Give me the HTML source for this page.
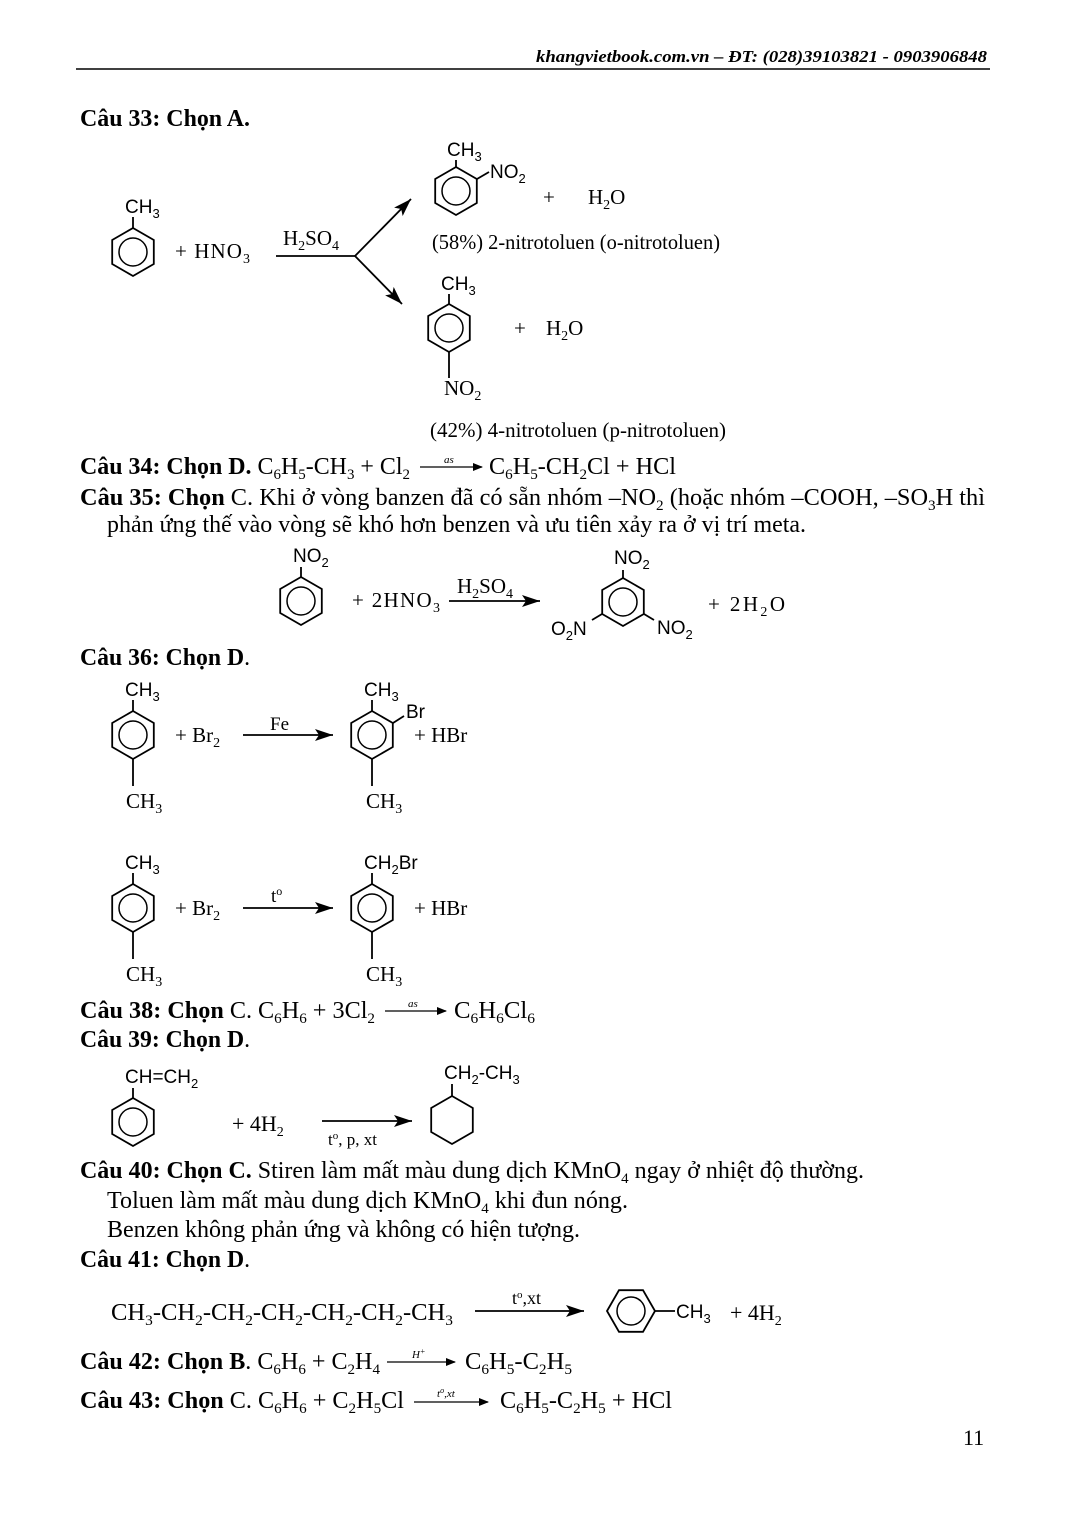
<!DOCTYPE html>
<html><head><meta charset="utf-8"><style>
html,body{margin:0;padding:0;background:#fff}
svg{display:block}
.t{font-family:"Liberation Serif",serif;font-size:24px;fill:#000}
.b{font-weight:bold}
.s{font-family:"Liberation Sans",sans-serif;font-size:19px;fill:#000}
</style></head><body>
<svg width="1068" height="1521" viewBox="0 0 1068 1521" xmlns="http://www.w3.org/2000/svg">
<defs>
<g id="ring"><polygon points="0,-24 20.8,-12 20.8,12 0,24 -20.8,12 -20.8,-12" fill="none" stroke="#000" stroke-width="1.8"/><circle r="14" fill="none" stroke="#000" stroke-width="1.5"/></g>
<g id="ringH"><polygon points="-24,0 -12,-20.8 12,-20.8 24,0 12,20.8 -12,20.8" fill="none" stroke="#000" stroke-width="1.8"/><circle r="14" fill="none" stroke="#000" stroke-width="1.5"/></g>
<marker id="ah" markerWidth="10" markerHeight="8" refX="9" refY="4" orient="auto" markerUnits="userSpaceOnUse"><path d="M0,0 L10,4 L0,8 Z"/></marker>
<marker id="ahb" markerWidth="20" markerHeight="12" refX="18" refY="6" orient="auto" markerUnits="userSpaceOnUse"><path d="M0,0 L18,6 L0,12 L4,6 Z"/></marker>
</defs>
<line x1="76" y1="69" x2="990" y2="69" stroke="#000" stroke-width="1.5"/>
<text x="536" y="62" class="t b" style="font-style:italic;font-size:17px" textLength="451" lengthAdjust="spacingAndGlyphs">khangvietbook.com.vn – ĐT: (028)39103821 - 0903906848</text>

<!-- Q33 -->
<text x="80" y="126" class="t b" textLength="170" lengthAdjust="spacingAndGlyphs">Câu 33: Chọn A.</text>
<use href="#ring" x="133" y="252"/>
<line x1="133" y1="228" x2="133" y2="217" stroke="#000" stroke-width="1.8"/>
<text x="125" y="213" class="s">CH<tspan dy="5" font-size="13">3</tspan></text>
<text x="175" y="258" class="t" style="font-size:21px" textLength="75">+  HNO<tspan dy="5" font-size="14">3</tspan></text>
<text x="283" y="245" class="t" style="font-size:21px">H<tspan dy="5" font-size="14">2</tspan><tspan dy="-5">SO</tspan><tspan dy="5" font-size="14">4</tspan></text>
<g stroke="#000" stroke-width="1.8" fill="none">
<line x1="276" y1="256" x2="355" y2="256"/>
<line x1="355" y1="256" x2="411" y2="199" marker-end="url(#ahb)"/>
<line x1="355" y1="256" x2="402" y2="304" marker-end="url(#ahb)"/>
</g>
<use href="#ring" x="456" y="191"/>
<line x1="456" y1="167" x2="456" y2="160" stroke="#000" stroke-width="1.8"/>
<line x1="477" y1="179" x2="489" y2="172" stroke="#000" stroke-width="1.8"/>
<text x="447" y="156" class="s">CH<tspan dy="5" font-size="13">3</tspan></text>
<text x="490" y="178" class="s">NO<tspan dy="5" font-size="13">2</tspan></text>
<text x="543" y="204" class="t" style="font-size:21px">+</text>
<text x="588" y="204" class="t" style="font-size:21px">H<tspan dy="5" font-size="14">2</tspan><tspan dy="-5">O</tspan></text>
<text x="432" y="249" class="t" style="font-size:21px" textLength="288" lengthAdjust="spacingAndGlyphs">(58%) 2-nitrotoluen (o-nitrotoluen)</text>
<use href="#ring" x="449" y="328"/>
<line x1="449" y1="304" x2="449" y2="294" stroke="#000" stroke-width="1.8"/>
<line x1="449" y1="352" x2="449" y2="378" stroke="#000" stroke-width="1.8"/>
<text x="441" y="290" class="s">CH<tspan dy="5" font-size="13">3</tspan></text>
<text x="444" y="395" class="t" style="font-size:21px">NO<tspan dy="5" font-size="14">2</tspan></text>
<text x="514" y="335" class="t" style="font-size:21px">+</text>
<text x="546" y="335" class="t" style="font-size:21px">H<tspan dy="5" font-size="14">2</tspan><tspan dy="-5">O</tspan></text>
<text x="430" y="437" class="t" style="font-size:21px" textLength="296" lengthAdjust="spacingAndGlyphs">(42%)   4-nitrotoluen (p-nitrotoluen)</text>

<!-- Q34 -->
<text x="80" y="474" class="t" textLength="330" lengthAdjust="spacingAndGlyphs"><tspan class="b">Câu 34: Chọn D.</tspan> C<tspan dy="5" font-size="15">6</tspan><tspan dy="-5">H</tspan><tspan dy="5" font-size="15">5</tspan><tspan dy="-5">-CH</tspan><tspan dy="5" font-size="15">3</tspan><tspan dy="-5"> + Cl</tspan><tspan dy="5" font-size="15">2</tspan></text>
<line x1="420" y1="467" x2="482" y2="467" stroke="#000" stroke-width="1.2" marker-end="url(#ah)"/>
<text x="444" y="463" class="t" style="font-size:11px;font-style:italic">as</text>
<text x="489" y="474" class="t" textLength="187" lengthAdjust="spacingAndGlyphs">C<tspan dy="5" font-size="15">6</tspan><tspan dy="-5">H</tspan><tspan dy="5" font-size="15">5</tspan><tspan dy="-5">-CH</tspan><tspan dy="5" font-size="15">2</tspan><tspan dy="-5">Cl + HCl</tspan></text>

<!-- Q35 -->
<text x="80" y="505" class="t" textLength="905" lengthAdjust="spacingAndGlyphs"><tspan class="b">Câu 35: Chọn</tspan> C. Khi ở vòng banzen đã có sẵn nhóm –NO<tspan dy="5" font-size="15">2</tspan><tspan dy="-5"> (hoặc nhóm –COOH, –SO</tspan><tspan dy="5" font-size="15">3</tspan><tspan dy="-5">H thì</tspan></text>
<text x="107" y="532" class="t" textLength="699" lengthAdjust="spacingAndGlyphs">phản ứng thế vào vòng sẽ khó hơn benzen và ưu tiên xảy ra ở vị trí meta.</text>
<use href="#ring" x="301" y="601"/>
<line x1="301" y1="577" x2="301" y2="567" stroke="#000" stroke-width="1.8"/>
<text x="293" y="562" class="s">NO<tspan dy="5" font-size="13">2</tspan></text>
<text x="352" y="607" class="t" style="font-size:21px" textLength="88">+  2HNO<tspan dy="5" font-size="14">3</tspan></text>
<text x="457" y="593" class="t" style="font-size:21px">H<tspan dy="5" font-size="14">2</tspan><tspan dy="-5">SO</tspan><tspan dy="5" font-size="14">4</tspan></text>
<line x1="449" y1="601" x2="540" y2="601" stroke="#000" stroke-width="1.8" marker-end="url(#ahb)"/>
<use href="#ring" x="623" y="602"/>
<line x1="623" y1="578" x2="623" y2="570" stroke="#000" stroke-width="1.8"/>
<line x1="602" y1="614" x2="592" y2="620" stroke="#000" stroke-width="1.8"/>
<line x1="644" y1="614" x2="654" y2="620" stroke="#000" stroke-width="1.8"/>
<text x="614" y="564" class="s">NO<tspan dy="5" font-size="13">2</tspan></text>
<text x="551" y="635" class="s">O<tspan dy="5" font-size="13">2</tspan><tspan dy="-5">N</tspan></text>
<text x="657" y="634" class="s">NO<tspan dy="5" font-size="13">2</tspan></text>
<text x="708" y="611" class="t" style="font-size:21px" textLength="77">+  2H<tspan dy="5" font-size="14">2</tspan><tspan dy="-5">O</tspan></text>

<!-- Q36 -->
<text x="80" y="665" class="t" textLength="170" lengthAdjust="spacingAndGlyphs"><tspan class="b">Câu 36: Chọn D</tspan>.</text>
<use href="#ring" x="133" y="735"/>
<line x1="133" y1="711" x2="133" y2="700" stroke="#000" stroke-width="1.8"/>
<line x1="133" y1="759" x2="133" y2="786" stroke="#000" stroke-width="1.8"/>
<text x="125" y="696" class="s">CH<tspan dy="5" font-size="13">3</tspan></text>
<text x="126" y="808" class="t" style="font-size:21px">CH<tspan dy="5" font-size="14">3</tspan></text>
<text x="175" y="742" class="t" style="font-size:21px">+  Br<tspan dy="5" font-size="14">2</tspan></text>
<text x="270" y="730" class="t" style="font-size:19px">Fe</text>
<line x1="243" y1="735" x2="333" y2="735" stroke="#000" stroke-width="1.8" marker-end="url(#ahb)"/>
<use href="#ring" x="372" y="735"/>
<line x1="372" y1="711" x2="372" y2="700" stroke="#000" stroke-width="1.8"/>
<line x1="372" y1="759" x2="372" y2="786" stroke="#000" stroke-width="1.8"/>
<line x1="393" y1="723" x2="404" y2="716" stroke="#000" stroke-width="1.8"/>
<text x="364" y="696" class="s">CH<tspan dy="5" font-size="13">3</tspan></text>
<text x="406" y="718" class="s">Br</text>
<text x="414" y="742" class="t" style="font-size:21px">+  HBr</text>
<text x="366" y="808" class="t" style="font-size:21px">CH<tspan dy="5" font-size="14">3</tspan></text>

<use href="#ring" x="133" y="908"/>
<line x1="133" y1="884" x2="133" y2="873" stroke="#000" stroke-width="1.8"/>
<line x1="133" y1="932" x2="133" y2="959" stroke="#000" stroke-width="1.8"/>
<text x="125" y="869" class="s">CH<tspan dy="5" font-size="13">3</tspan></text>
<text x="126" y="981" class="t" style="font-size:21px">CH<tspan dy="5" font-size="14">3</tspan></text>
<text x="175" y="915" class="t" style="font-size:21px">+  Br<tspan dy="5" font-size="14">2</tspan></text>
<text x="271" y="902" class="t" style="font-size:19px">t<tspan dy="-7" font-size="12">o</tspan></text>
<line x1="243" y1="908" x2="333" y2="908" stroke="#000" stroke-width="1.8" marker-end="url(#ahb)"/>
<use href="#ring" x="372" y="908"/>
<line x1="372" y1="884" x2="372" y2="873" stroke="#000" stroke-width="1.8"/>
<line x1="372" y1="932" x2="372" y2="959" stroke="#000" stroke-width="1.8"/>
<text x="364" y="869" class="s">CH<tspan dy="5" font-size="13">2</tspan><tspan dy="-5">Br</tspan></text>
<text x="414" y="915" class="t" style="font-size:21px">+  HBr</text>
<text x="366" y="981" class="t" style="font-size:21px">CH<tspan dy="5" font-size="14">3</tspan></text>

<!-- Q38/39 -->
<text x="80" y="1018" class="t" textLength="295" lengthAdjust="spacingAndGlyphs"><tspan class="b">Câu 38: Chọn</tspan> C. C<tspan dy="5" font-size="15">6</tspan><tspan dy="-5">H</tspan><tspan dy="5" font-size="15">6</tspan><tspan dy="-5"> + 3Cl</tspan><tspan dy="5" font-size="15">2</tspan></text>
<line x1="385" y1="1011" x2="446" y2="1011" stroke="#000" stroke-width="1.2" marker-end="url(#ah)"/>
<text x="408" y="1007" class="t" style="font-size:11px;font-style:italic">as</text>
<text x="454" y="1018" class="t" textLength="81" lengthAdjust="spacingAndGlyphs">C<tspan dy="5" font-size="15">6</tspan><tspan dy="-5">H</tspan><tspan dy="5" font-size="15">6</tspan><tspan dy="-5">Cl</tspan><tspan dy="5" font-size="15">6</tspan></text>
<text x="80" y="1047" class="t" textLength="170" lengthAdjust="spacingAndGlyphs"><tspan class="b">Câu 39: Chọn D</tspan>.</text>
<use href="#ring" x="133" y="1122"/>
<line x1="133" y1="1098" x2="133" y2="1088" stroke="#000" stroke-width="1.8"/>
<text x="125" y="1083" class="s">CH=CH<tspan dy="5" font-size="13">2</tspan></text>
<text x="232" y="1131" class="t" style="font-size:22px">+ 4H<tspan dy="5" font-size="14">2</tspan></text>
<line x1="322" y1="1121" x2="412" y2="1121" stroke="#000" stroke-width="1.8" marker-end="url(#ahb)"/>
<text x="328" y="1145" class="t" style="font-size:17px">t<tspan dy="-6" font-size="11">o</tspan><tspan dy="6">, p, xt</tspan></text>
<polygon points="452,1096 472.8,1108 472.8,1132 452,1144 431.2,1132 431.2,1108" fill="none" stroke="#000" stroke-width="1.8"/>
<line x1="452" y1="1096" x2="452" y2="1084" stroke="#000" stroke-width="1.8"/>
<text x="444" y="1079" class="s">CH<tspan dy="5" font-size="13">2</tspan><tspan dy="-5">-CH</tspan><tspan dy="5" font-size="13">3</tspan></text>

<!-- Q40 -->
<text x="80" y="1178" class="t" textLength="784" lengthAdjust="spacingAndGlyphs"><tspan class="b">Câu 40: Chọn C.</tspan> Stiren làm mất màu dung dịch KMnO<tspan dy="5" font-size="15">4</tspan><tspan dy="-5"> ngay ở nhiệt độ thường.</tspan></text>
<text x="107" y="1208" class="t" textLength="521" lengthAdjust="spacingAndGlyphs">Toluen làm mất màu dung dịch KMnO<tspan dy="5" font-size="15">4</tspan><tspan dy="-5"> khi đun nóng.</tspan></text>
<text x="107" y="1237" class="t" textLength="473" lengthAdjust="spacingAndGlyphs">Benzen không phản ứng và không có hiện tượng.</text>
<text x="80" y="1267" class="t" textLength="170" lengthAdjust="spacingAndGlyphs"><tspan class="b">Câu 41: Chọn D</tspan>.</text>
<text x="111" y="1320" class="t" textLength="342" lengthAdjust="spacingAndGlyphs">CH<tspan dy="5" font-size="15">3</tspan><tspan dy="-5">-CH</tspan><tspan dy="5" font-size="15">2</tspan><tspan dy="-5">-CH</tspan><tspan dy="5" font-size="15">2</tspan><tspan dy="-5">-CH</tspan><tspan dy="5" font-size="15">2</tspan><tspan dy="-5">-CH</tspan><tspan dy="5" font-size="15">2</tspan><tspan dy="-5">-CH</tspan><tspan dy="5" font-size="15">2</tspan><tspan dy="-5">-CH</tspan><tspan dy="5" font-size="15">3</tspan></text>
<text x="512" y="1304" class="t" style="font-size:18px">t<tspan dy="-6" font-size="11">o</tspan><tspan dy="6">,xt</tspan></text>
<line x1="475" y1="1311" x2="584" y2="1311" stroke="#000" stroke-width="1.8" marker-end="url(#ahb)"/>
<use href="#ringH" x="631" y="1311"/>
<line x1="655" y1="1311" x2="675" y2="1311" stroke="#000" stroke-width="1.8"/>
<text x="676" y="1318" class="s">CH<tspan dy="5" font-size="13">3</tspan></text>
<text x="730" y="1320" class="t" style="font-size:22px">+ 4H<tspan dy="5" font-size="14">2</tspan></text>

<!-- Q42/43 -->
<text x="80" y="1369" class="t" textLength="300" lengthAdjust="spacingAndGlyphs"><tspan class="b">Câu 42: Chọn B</tspan>. C<tspan dy="5" font-size="15">6</tspan><tspan dy="-5">H</tspan><tspan dy="5" font-size="15">6</tspan><tspan dy="-5"> + C</tspan><tspan dy="5" font-size="15">2</tspan><tspan dy="-5">H</tspan><tspan dy="5" font-size="15">4</tspan></text>
<line x1="387" y1="1362" x2="455" y2="1362" stroke="#000" stroke-width="1.2" marker-end="url(#ah)"/>
<text x="412" y="1358" class="t" style="font-size:11px;font-style:italic">H<tspan dy="-4" font-size="8">+</tspan></text>
<text x="465" y="1369" class="t" textLength="107" lengthAdjust="spacingAndGlyphs">C<tspan dy="5" font-size="15">6</tspan><tspan dy="-5">H</tspan><tspan dy="5" font-size="15">5</tspan><tspan dy="-5">-C</tspan><tspan dy="5" font-size="15">2</tspan><tspan dy="-5">H</tspan><tspan dy="5" font-size="15">5</tspan></text>
<text x="80" y="1408" class="t" textLength="324" lengthAdjust="spacingAndGlyphs"><tspan class="b">Câu 43: Chọn</tspan> C. C<tspan dy="5" font-size="15">6</tspan><tspan dy="-5">H</tspan><tspan dy="5" font-size="15">6</tspan><tspan dy="-5"> + C</tspan><tspan dy="5" font-size="15">2</tspan><tspan dy="-5">H</tspan><tspan dy="5" font-size="15">5</tspan><tspan dy="-5">Cl</tspan></text>
<line x1="414" y1="1402" x2="488" y2="1402" stroke="#000" stroke-width="1.2" marker-end="url(#ah)"/>
<text x="437" y="1397" class="t" style="font-size:11px;font-style:italic">t<tspan dy="-4" font-size="8">o</tspan><tspan dy="4">,xt</tspan></text>
<text x="500" y="1408" class="t" textLength="172" lengthAdjust="spacingAndGlyphs">C<tspan dy="5" font-size="15">6</tspan><tspan dy="-5">H</tspan><tspan dy="5" font-size="15">5</tspan><tspan dy="-5">-C</tspan><tspan dy="5" font-size="15">2</tspan><tspan dy="-5">H</tspan><tspan dy="5" font-size="15">5</tspan><tspan dy="-5"> + HCl</tspan></text>
<text x="963" y="1445" class="t" style="font-size:22px">11</text>
</svg>
</body></html>
